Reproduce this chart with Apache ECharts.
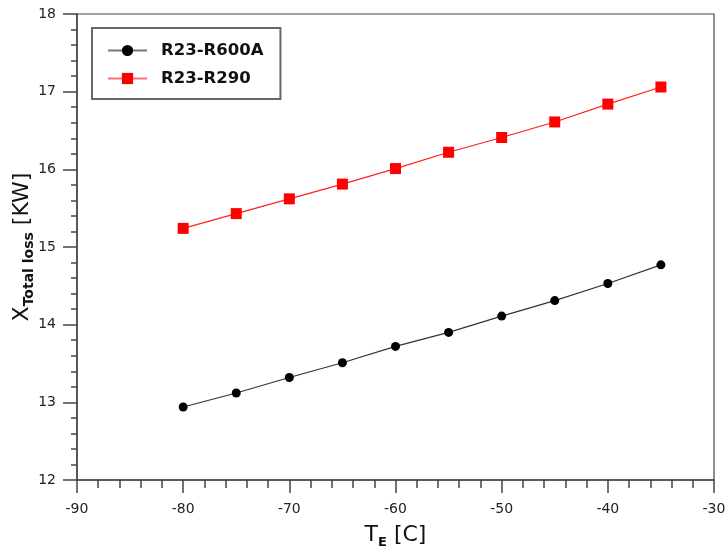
<!DOCTYPE html>
<html>
<head>
<meta charset="utf-8">
<script src="https://cdn.jsdelivr.net/npm/echarts@6/dist/echarts.min.js"></script>
<style>html,body{margin:0;padding:0;background:#fff}#c{width:725px;height:552px}</style>
</head>
<body>
<div id="c"></div>
<script>
const temps = [-80, -75, -70, -65, -60, -55, -50, -45, -40, -35];
const r600a = [12.94, 13.12, 13.32, 13.51, 13.72, 13.90, 14.11, 14.31, 14.53, 14.77];
const r290 = [15.24, 15.43, 15.62, 15.81, 16.01, 16.22, 16.41, 16.61, 16.84, 17.06];
const seriesNames = ['R23-R600A', 'R23-R290'];

const chart = echarts.init(document.getElementById('c'), null, {renderer: 'canvas'});
const font = 'DejaVu Sans';
chart.setOption({
  animation: false,
  backgroundColor: '#fff',
  grid: {left: 77, right: 11, top: 14, bottom: 72, containLabel: false, outerBoundsMode: 'none',
    show: true, borderColor: '#444', borderWidth: 1.2, backgroundColor: 'transparent'},
  legend: {
    orient: 'vertical', left: 92, top: 28,
    padding: [14, 17, 12, 15],
    itemGap: 11, itemWidth: 39, itemHeight: 14,
    borderColor: '#666', borderWidth: 2, borderRadius: 0,
    textStyle: {fontFamily: font, fontSize: 16.5, fontWeight: 'bold', color: '#111', padding: [0, 0, 0, 9], width: 108},
    data: [
      {name: seriesNames[0], lineStyle: {color: '#777', width: 2}},
      {name: seriesNames[1], lineStyle: {color: '#ff7070', width: 2}}
    ]
  },
  xAxis: {
    type: 'value', min: -90, max: -30, interval: 10,
    name: '{m|T}{s|E}{m| [C]}', nameLocation: 'middle', nameGap: 41, nameMoveOverlap: false,
    nameTextStyle: {
      rich: {
        m: {fontFamily: font, fontSize: 22, color: '#111', lineHeight: 28},
        s: {fontFamily: font, fontSize: 13, fontWeight: 'bold', color: '#111', verticalAlign: 'bottom', lineHeight: 14}
      }
    },
    axisLine: {show: true, onZero: false, lineStyle: {color: '#444', width: 1.5}},
    axisTick: {show: true, length: 13, lineStyle: {color: '#444', width: 1.5}},
    minorTick: {show: true, splitNumber: 5, length: 8, lineStyle: {color: '#444', width: 1.5}},
    axisLabel: {fontFamily: font, fontSize: 14, color: '#222', margin: 22},
    splitLine: {show: false}
  },
  yAxis: {
    type: 'value', min: 12, max: 18, interval: 1,
    name: '{m|X}{s|Total loss}{m| [KW]}', nameLocation: 'middle', nameGap: 41, nameRotate: 90, nameMoveOverlap: false,
    nameTextStyle: {
      rich: {
        m: {fontFamily: font, fontSize: 22, color: '#111', lineHeight: 28},
        s: {fontFamily: font, fontSize: 14, fontWeight: 'bold', color: '#111', verticalAlign: 'bottom', lineHeight: 14}
      }
    },
    axisLine: {show: true, onZero: false, lineStyle: {color: '#444', width: 1.5}},
    axisTick: {show: true, length: 14, lineStyle: {color: '#444', width: 1.5}},
    minorTick: {show: true, splitNumber: 5, length: 6, lineStyle: {color: '#444', width: 1.5}},
    axisLabel: {fontFamily: font, fontSize: 14, color: '#222', margin: 21},
    splitLine: {show: false}
  },
  series: [
    {
      name: seriesNames[0], type: 'line',
      data: temps.map((t, i) => [t, r600a[i]]),
      symbol: 'circle', symbolSize: 9,
      lineStyle: {color: '#333', width: 1.2},
      itemStyle: {color: '#000'}
    },
    {
      name: seriesNames[1], type: 'line',
      data: temps.map((t, i) => [t, r290[i]]),
      symbol: 'rect', symbolSize: 11,
      lineStyle: {color: '#ff2020', width: 1.2},
      itemStyle: {color: '#ff0000'}
    }
  ]
});
</script>
</body>
</html>
